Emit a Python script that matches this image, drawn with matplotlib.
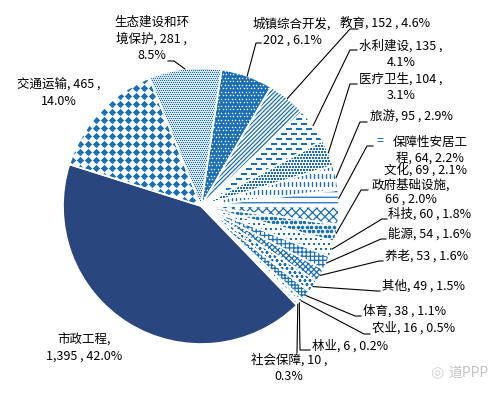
import numpy as np
import matplotlib
matplotlib.use('Agg')
import matplotlib.pyplot as plt

plt.rcParams['font.family'] = ['Noto Sans CJK SC', 'DejaVu Sans']
plt.rcParams['hatch.linewidth'] = 0.9

# ---------------- data (clockwise order, starting with 市政工程) ----------------
categories = ['市政工程', '交通运输', '生态建设和环境保护', '城镇综合开发', '教育', '水利建设',
              '医疗卫生', '旅游', '保障性安居工程', '文化', '政府基础设施', '科技', '能源',
              '养老', '其他', '体育', '农业', '林业', '社会保障']
counts = [1395, 465, 281, 202, 152, 135, 104, 95, 64, 69, 66, 60, 54, 53, 49, 38, 16, 6, 10]
percents = [42.0, 14.0, 8.5, 6.1, 4.6, 4.1, 3.1, 2.9, 2.2, 2.1, 2.0, 1.8, 1.6, 1.6, 1.5, 1.1,
            0.5, 0.2, 0.3]

W, H = 500, 393
BLUE = '#1B6FB6'
NAVY = '#29477E'
CX, CY, R = 201, 206, 138
FS = 9


def Y(y):
    return H - y


fig = plt.figure(figsize=(W / 100, H / 100), dpi=100)
ax = fig.add_axes([0, 0, 1, 1])

wedges, _ = ax.pie(counts, startangle=-46, counterclock=False, center=(CX, Y(CY)),
                   radius=R, wedgeprops=dict(linewidth=0))

# pattern styles: (kind, params)
styles = [
    ('solid', NAVY),
    ('scatter', dict(marker='D', dx=8, dy=8, stag=False, ms=5.2)),
    ('scatter', dict(marker='s', dx=2, dy=2, stag=True, ms=1.0, face='#d3e3f2')),
    ('dots_on_blue', dict(marker='o', dx=3.5, dy=3.5, stag=True, ms=1.5)),
    ('hatch', '////////'),
    ('scatter', dict(marker='_', dx=10, dy=5, stag=True, ms=6, lw=1.1)),
    ('scatter', dict(marker='s', dx=3, dy=3, stag=True, ms=1.6)),
    ('scatter', dict(marker='|', dx=4, dy=8, stag=True, ms=5, lw=1.0)),
    ('hatch', '---'),
    ('hatch', 'xxxx'),
    ('scatter', dict(marker='o', dx=4.5, dy=4.5, stag=True, ms=3.6)),
    ('scatter', dict(marker='s', dx=5, dy=5, stag=True, ms=1.2)),
    ('hatch', '++++'),
    ('hatch', 'xxxxxx'),
    ('scatter', dict(marker='_', dx=5, dy=4, stag=True, ms=3, lw=0.9)),
    ('hatch', '+++++'),
    ('hatch', '....'),
    ('hatch', '||||'),
    ('hatch', '-----'),
]


def pattern_points(w, dx, dy, stag):
    xs = np.arange(CX - R, CX + R + dx, dx) + 0.5
    ys = np.arange(Y(CY) - R, Y(CY) + R + dy, dy) + 0.5
    X, Yg = np.meshgrid(xs, ys)
    if stag:
        X = X + (np.arange(len(ys))[:, None] % 2) * dx / 2
    X = X.ravel()
    Yg = Yg.ravel()
    ang = np.degrees(np.arctan2(Yg - Y(CY), X - CX))
    t1, t2 = w.theta1, w.theta2
    rel = (ang - t1) % 360
    keep = (rel <= (t2 - t1) + 2) & (np.hypot(X - CX, Yg - Y(CY)) <= R + 3)
    return X[keep], Yg[keep]


for w, (kind, p) in zip(wedges, styles):
    if kind == 'solid':
        w.set_facecolor(p)
    elif kind == 'hatch':
        w.set_facecolor('white')
        w.set_edgecolor(BLUE)
        w.set_hatch(p)
    elif kind in ('scatter', 'dots_on_blue'):
        if kind == 'dots_on_blue':
            w.set_facecolor(BLUE)
            col = 'white'
        else:
            w.set_facecolor(p.get('face', 'white'))
            col = BLUE
        px, py = pattern_points(w, p['dx'], p['dy'], p['stag'])
        s = (p['ms'] * 0.72) ** 2
        if p['marker'] in ('_', '|'):
            sc = ax.scatter(px, py, marker=p['marker'], s=s, c=col, linewidths=p.get('lw', 1.0))
        else:
            sc = ax.scatter(px, py, marker=p['marker'], s=s, c=col, linewidths=0)
        sc.set_clip_path(w)

# white separators
sep, _ = ax.pie(counts, startangle=-46, counterclock=False, center=(CX, Y(CY)), radius=R,
                wedgeprops=dict(fill=False, edgecolor='white', linewidth=1.2))

# ---------------- labels ----------------
# index: (x, y, ha, fmt, name_break, leader_start, leader_elbow)
layout = {
    0: (84, 348, 'center', '{n},\n{c} , {p}', None, None, None),
    1: (59, 93, 'center', '{n}, {c} ,\n{p}', None, None, None),
    2: (152, 39, 'center', '{n}, {c} ,\n{p}', 6, (168, 61), (174, 61)),
    3: (292, 32, 'center', '{n},\n{c} , {p}', None, (261, 43), (256, 43)),
    4: (340, 23, 'left', '{n}, {c} , {p}', None, (358, 29), (350, 29)),
    5: (401, 54, 'center', '{n}, {c} ,\n{p}', None, (357, 50), (350, 50)),
    6: (401, 87, 'center', '{n}, {c} ,\n{p}', None, (357, 84), (350, 84)),
    7: (370, 117, 'left', '{n}, {c} , {p}', None, (367, 122), (360, 122)),
    8: (430, 150, 'center', '{n}, {c}, {p}', 6, (373, 146), (367, 146)),
    9: (425, 170, 'center', '{n}, {c} , {p}', None, None, None),
    10: (411, 192, 'center', '{n},\n{c} , {p}', None, (368, 190), (361, 190)),
    11: (388, 214, 'left', '{n}, {c} , {p}', None, (387, 219), (382, 219)),
    12: (388, 234, 'left', '{n}, {c} , {p}', None, (386, 239), (381, 239)),
    13: (385, 256, 'left', '{n}, {c} , {p}', None, (383, 261), (379, 261)),
    14: (382, 286, 'left', '{n}, {c} , {p}', None, (380, 291), (377, 291)),
    15: (363, 311, 'left', '{n}, {c} , {p}', None, (361, 316), (355, 316)),
    16: (372, 328, 'left', '{n}, {c} , {p}', None, (370, 334), (364, 334)),
    17: (312, 346, 'left', '{n}, {c} , {p}', None, (310, 350), (300, 350)),
    18: (289, 368, 'center', '{n}, {c} ,\n{p}', None, (297, 353), (297, 352)),
}

for i, (x, y, ha, fmt, brk, ls, le) in layout.items():
    name = categories[i]
    if brk:
        name = name[:brk] + '\n' + name[brk:]
    txt = fmt.format(n=name, c=f'{counts[i]:,}', p=f'{percents[i]:.1f}%')
    ax.text(x, Y(y), txt, ha=ha, va='center', fontsize=FS, color='black',
            linespacing=1.3 if i != 10 else 1.1, multialignment='center')
    if ls is not None:
        w = wedges[i]
        mid = np.radians((w.theta1 + w.theta2) / 2)
        ex, ey = CX + R * np.cos(mid), Y(CY) + R * np.sin(mid)
        ax.plot([ls[0], le[0], ex], [Y(ls[1]), Y(le[1]), ey], color='black', lw=0.8)

# legend key next to 保障性安居工程
ax.text(380, Y(141), '=', color=BLUE, fontsize=FS, ha='center', va='center')

# watermark
ax.text(468, Y(373), '道PPP', color='#c4c4c4', fontsize=10, ha='center', va='center')
ax.text(437, Y(373), '◎', color='#d0d0d0', fontsize=11, ha='center', va='center',
        family=['DejaVu Sans'])

ax.set_xlim(0, W)
ax.set_ylim(0, H)
ax.set_aspect('equal')
ax.axis('off')
fig.savefig('out.png', dpi=100, facecolor='white')
